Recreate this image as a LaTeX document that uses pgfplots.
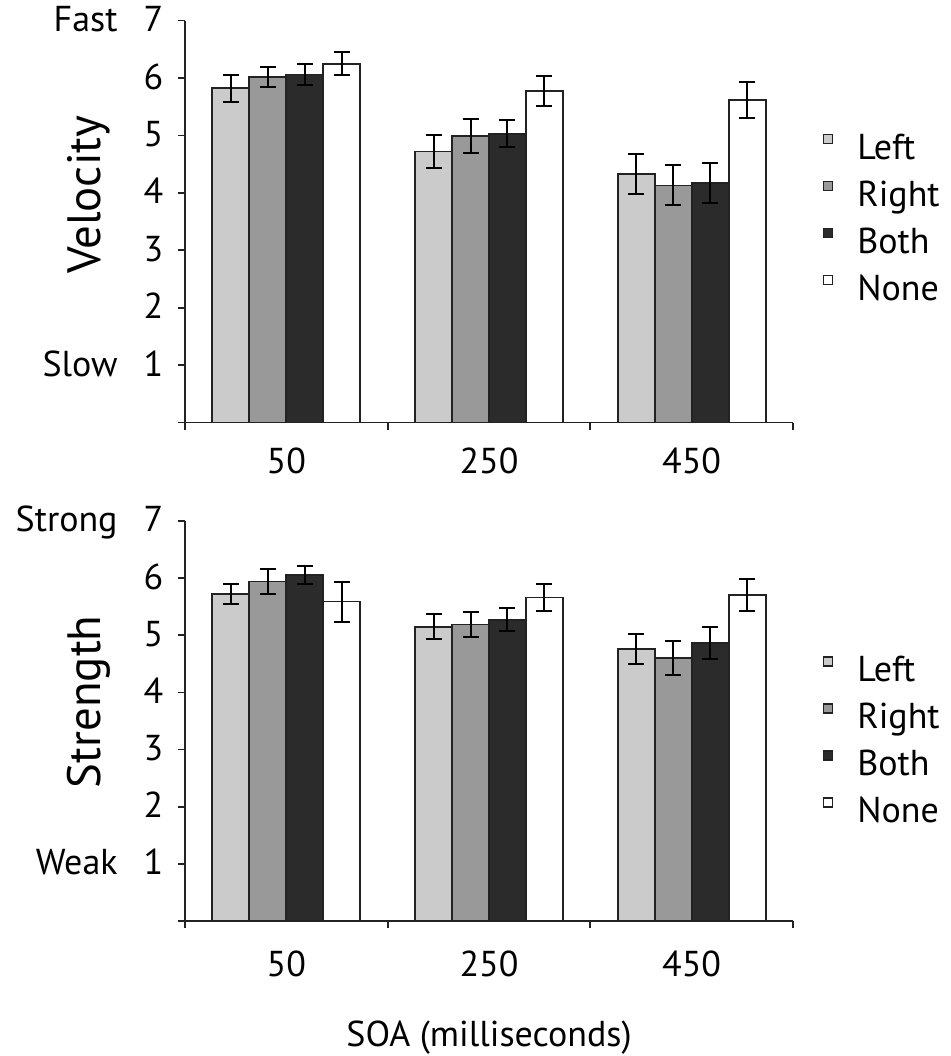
\documentclass[border=0pt]{standalone}
\usepackage{fontspec}
\setmainfont{PT Sans}
\usepackage{pgfplots}
\usepackage{pgfplotstable}
\pgfplotsset{compat=1.18}

\definecolor{cLeft}{HTML}{CBCBCB}
\definecolor{cRight}{HTML}{999999}
\definecolor{cBoth}{HTML}{2B2B2B}
\definecolor{cNone}{HTML}{FFFFFF}
\definecolor{cLine}{HTML}{222222}

% Velocity
\pgfplotstableread{
x y e
0 5.82 0.24
1 4.72 0.29
2 4.33 0.355
}\vLeft
\pgfplotstableread{
x y e
0 6.02 0.18
1 4.99 0.29
2 4.13 0.35
}\vRight
\pgfplotstableread{
x y e
0 6.06 0.19
1 5.03 0.24
2 4.17 0.35
}\vBoth
\pgfplotstableread{
x y e
0 6.25 0.20
1 5.78 0.26
2 5.62 0.315
}\vNone
% Strength
\pgfplotstableread{
x y e
0 5.72 0.18
1 5.15 0.22
2 4.76 0.255
}\sLeft
\pgfplotstableread{
x y e
0 5.94 0.22
1 5.19 0.22
2 4.60 0.30
}\sRight
\pgfplotstableread{
x y e
0 6.06 0.16
1 5.27 0.20
2 4.87 0.28
}\sBoth
\pgfplotstableread{
x y e
0 5.59 0.35
1 5.66 0.24
2 5.71 0.28
}\sNone

\newcommand\legsq[1]{\draw[#1, draw=cLine, line width=0.4pt] (0pt,1.4pt) rectangle (2.25pt,3.65pt);}

\pgfplotsset{
  mybar/.style={
    width=152pt, scale only axis,
    xmin=-0.5, xmax=2.5, ymin=0, ymax=7,
    axis x line*=bottom, axis y line*=left,
    axis line style={line width=0.45pt, cLine},
    tick align=outside, major tick length=1.75pt,
    tick style={line width=0.45pt, cLine},
    xtick={-0.5,0.5,1.5,2.5}, xticklabels={},
    extra x ticks={0,1,2}, extra x tick labels={50,250,450},
    extra x tick style={major tick length=0pt},
    ytick={0,1,2,3,4,5,6,7},
    /pgf/number format/assume math mode=true,
    yticklabel style={anchor=base east, inner sep=0pt, xshift=-3.5pt, yshift=-2.75pt},
    xticklabel style={anchor=base, inner sep=0pt},
    ylabel style={anchor=base, inner sep=0pt, font=\fontsize{11.7}{14}\selectfont},
    ybar=0pt, bar width=0.1825,
    legend cell align=left,
    legend style={draw=none, fill=none, inner sep=0pt, outer sep=0pt,
      anchor=north west, row sep=2.75pt, column sep=6pt,
      nodes={inner sep=0pt, text height=7pt, text depth=2pt}},
  },
  mbar/.style={draw=cLine, line width=0.45pt, fill=#1,
    legend image code/.code={\legsq{##1}},
    error bars/.cd, y dir=both, y explicit,
    error bar style={line width=0.5pt, black},
    error mark options={rotate=90, mark size=2pt, line width=0.5pt, black}},
}

\begin{document}
\begin{tikzpicture}[font=\fontsize{9}{11}\selectfont]
% bottom panel
\begin{axis}[mybar, height=100pt, at={(0pt,0pt)},
  yticklabels={,Weak\hspace{6.5pt}1,2,3,4,5,6,Strong\hspace{6.5pt}7},
  xticklabel style={yshift=-13.75pt},
  ylabel={Strength},
  ylabel style={at={(axis description cs:-0.139,0.548)}},
  xlabel={SOA (milliseconds)},
  xlabel style={at={(axis description cs:0.5,0)}, anchor=base, inner sep=0pt, yshift=-31.25pt},
  legend style={at={(axis description cs:1.049,0.669)}},
]
\addplot[mbar=cLeft] table[x=x,y=y,y error=e]{\sLeft};
\addplot[mbar=cRight] table[x=x,y=y,y error=e]{\sRight};
\addplot[mbar=cBoth] table[x=x,y=y,y error=e]{\sBoth};
\addplot[mbar=cNone] table[x=x,y=y,y error=e]{\sNone};
\legend{Left,Right,Both,None}
\end{axis}
% top panel
\begin{axis}[mybar, height=100.5pt, at={(0pt,124.6pt)},
  yticklabels={,Slow\hspace{6.5pt}1,2,3,4,5,6,Fast\hspace{6.5pt}7},
  xticklabel style={yshift=-12.75pt},
  ylabel={Velocity},
  ylabel style={at={(axis description cs:-0.139,0.567)}},
  legend style={at={(axis description cs:1.049,0.725)}},
]
\addplot[mbar=cLeft] table[x=x,y=y,y error=e]{\vLeft};
\addplot[mbar=cRight] table[x=x,y=y,y error=e]{\vRight};
\addplot[mbar=cBoth] table[x=x,y=y,y error=e]{\vBoth};
\addplot[mbar=cNone] table[x=x,y=y,y error=e]{\vNone};
\legend{Left,Right,Both,None}
\end{axis}
\pgfresetboundingbox
\path[use as bounding box] (-46.25pt,-33.75pt) rectangle (191.25pt,230.25pt);
\end{tikzpicture}
\end{document}
